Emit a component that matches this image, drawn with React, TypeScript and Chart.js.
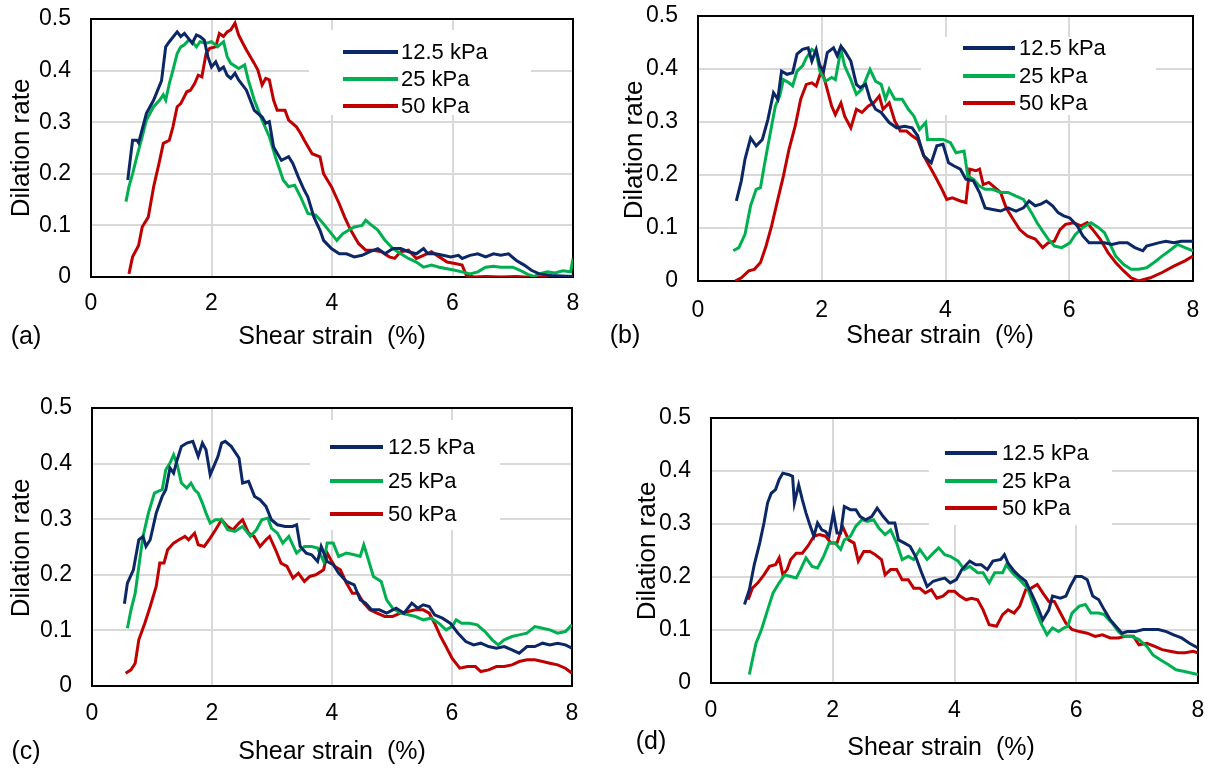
import React, { useEffect, useRef } from "react";
import { Chart, registerables } from "chart.js";
Chart.register(...registerables);

const SERIES_LABELS = ["12.5 kPa", "25 kPa", "50 kPa"];
const COLORS = ["#0B2766", "#00B050", "#C00000"];
const X_TICKS = [0, 2, 4, 6, 8];
const Y_TICKS = [0, 0.1, 0.2, 0.3, 0.4, 0.5];
const X_TITLE = "Shear strain  (%)";
const Y_TITLE = "Dilation rate";

// Panel (a)
const a125 = [[0.61,0.188],[0.69,0.265],[0.76,0.265],[0.79,0.26],[0.92,0.317],[1.04,0.343],[1.17,0.38],[1.24,0.446],[1.3,0.456],[1.43,0.475],[1.49,0.466],[1.55,0.472],[1.62,0.462],[1.68,0.453],[1.75,0.469],[1.81,0.466],[1.88,0.459],[1.94,0.427],[2.0,0.407],[2.07,0.417],[2.13,0.401],[2.2,0.407],[2.26,0.391],[2.32,0.385],[2.39,0.395],[2.45,0.382],[2.58,0.362],[2.71,0.323],[2.84,0.31],[2.9,0.298],[2.96,0.301],[3.03,0.252],[3.16,0.226],[3.28,0.233],[3.35,0.22],[3.44,0.194],[3.54,0.168],[3.6,0.155],[3.7,0.116],[3.8,0.091],[3.86,0.071],[3.99,0.055],[4.12,0.045],[4.24,0.045],[4.37,0.039],[4.5,0.042],[4.63,0.049],[4.76,0.055],[4.88,0.045],[5.01,0.055],[5.14,0.055],[5.27,0.049],[5.4,0.045],[5.52,0.055],[5.59,0.045],[5.72,0.045],[5.84,0.042],[5.97,0.039],[6.1,0.042],[6.16,0.036],[6.29,0.042],[6.42,0.045],[6.55,0.039],[6.68,0.045],[6.8,0.042],[6.93,0.045],[7.06,0.032],[7.19,0.023],[7.31,0.013],[7.44,0.006],[7.64,0.003],[8.0,0.001]];
const a25 = [[0.58,0.146],[0.63,0.175],[0.69,0.2],[0.76,0.233],[0.85,0.272],[0.92,0.304],[1.04,0.33],[1.14,0.343],[1.2,0.353],[1.24,0.343],[1.3,0.375],[1.36,0.401],[1.43,0.433],[1.49,0.446],[1.55,0.45],[1.62,0.459],[1.68,0.456],[1.75,0.446],[1.81,0.456],[1.91,0.453],[2.0,0.456],[2.1,0.446],[2.2,0.456],[2.26,0.427],[2.32,0.414],[2.45,0.404],[2.55,0.411],[2.61,0.382],[2.71,0.343],[2.84,0.304],[2.96,0.272],[3.06,0.233],[3.19,0.188],[3.28,0.175],[3.38,0.178],[3.48,0.155],[3.6,0.123],[3.73,0.12],[3.86,0.103],[3.99,0.084],[4.08,0.071],[4.18,0.084],[4.28,0.091],[4.37,0.097],[4.5,0.1],[4.56,0.11],[4.63,0.103],[4.76,0.091],[4.88,0.071],[5.01,0.055],[5.14,0.045],[5.27,0.036],[5.4,0.029],[5.52,0.019],[5.65,0.023],[5.78,0.019],[5.91,0.016],[6.04,0.013],[6.16,0.01],[6.29,0.006],[6.42,0.01],[6.55,0.019],[6.68,0.021],[6.8,0.019],[7.0,0.019],[7.12,0.013],[7.25,0.005],[7.35,0.001],[7.44,0.006],[7.57,0.01],[7.7,0.008],[7.83,0.012],[7.96,0.01],[8.0,0.036]];
const a50 = [[0.63,0.006],[0.69,0.039],[0.79,0.061],[0.85,0.097],[0.95,0.116],[1.04,0.175],[1.14,0.226],[1.2,0.259],[1.3,0.265],[1.36,0.291],[1.43,0.33],[1.49,0.336],[1.59,0.359],[1.65,0.362],[1.72,0.375],[1.78,0.391],[1.84,0.388],[1.91,0.433],[1.97,0.443],[2.07,0.446],[2.13,0.472],[2.2,0.466],[2.26,0.475],[2.32,0.479],[2.39,0.492],[2.45,0.469],[2.52,0.453],[2.58,0.44],[2.71,0.414],[2.77,0.401],[2.84,0.372],[2.9,0.385],[2.96,0.382],[3.03,0.343],[3.09,0.323],[3.22,0.323],[3.28,0.304],[3.41,0.291],[3.48,0.278],[3.54,0.265],[3.67,0.239],[3.8,0.233],[3.86,0.2],[3.99,0.175],[4.12,0.142],[4.21,0.116],[4.31,0.091],[4.44,0.065],[4.56,0.052],[4.69,0.052],[4.82,0.049],[4.95,0.039],[5.04,0.036],[5.14,0.049],[5.27,0.052],[5.4,0.036],[5.52,0.042],[5.65,0.049],[5.78,0.039],[5.91,0.029],[6.04,0.026],[6.16,0.023],[6.23,0.003],[6.36,0.0],[6.55,0.001],[6.8,0.0],[7.06,0.001],[7.19,0.0],[7.96,0.0],[8.0,0.003]];

// Panel (b)
const b125 = [[0.62,0.151],[0.7,0.189],[0.76,0.23],[0.85,0.27],[0.94,0.255],[1.04,0.267],[1.13,0.305],[1.22,0.355],[1.29,0.343],[1.35,0.396],[1.44,0.39],[1.53,0.393],[1.6,0.428],[1.69,0.437],[1.78,0.44],[1.84,0.415],[1.91,0.437],[1.97,0.406],[2.03,0.396],[2.09,0.431],[2.19,0.44],[2.25,0.425],[2.31,0.443],[2.37,0.434],[2.47,0.415],[2.56,0.371],[2.62,0.365],[2.71,0.371],[2.78,0.343],[2.87,0.324],[2.96,0.318],[3.09,0.299],[3.21,0.289],[3.34,0.292],[3.46,0.289],[3.55,0.274],[3.65,0.236],[3.77,0.223],[3.86,0.255],[3.96,0.258],[4.05,0.223],[4.14,0.217],[4.24,0.211],[4.33,0.192],[4.45,0.189],[4.55,0.167],[4.64,0.138],[4.76,0.135],[4.89,0.132],[5.01,0.138],[5.14,0.132],[5.26,0.138],[5.35,0.151],[5.45,0.142],[5.54,0.145],[5.63,0.151],[5.73,0.142],[5.82,0.129],[5.91,0.123],[6.01,0.119],[6.13,0.104],[6.22,0.085],[6.32,0.072],[6.44,0.072],[6.57,0.072],[6.69,0.069],[6.81,0.072],[6.94,0.072],[7.06,0.063],[7.19,0.057],[7.25,0.066],[7.44,0.072],[7.56,0.075],[7.69,0.072],[7.81,0.075],[8.0,0.075]];
const b25 = [[0.57,0.057],[0.66,0.063],[0.76,0.088],[0.85,0.142],[0.94,0.173],[1.01,0.176],[1.07,0.217],[1.16,0.274],[1.25,0.33],[1.32,0.349],[1.38,0.38],[1.47,0.374],[1.53,0.368],[1.6,0.396],[1.69,0.406],[1.75,0.421],[1.84,0.437],[1.91,0.431],[1.97,0.396],[2.06,0.377],[2.16,0.384],[2.22,0.38],[2.31,0.437],[2.37,0.406],[2.47,0.38],[2.56,0.352],[2.65,0.362],[2.78,0.399],[2.87,0.377],[2.96,0.371],[3.03,0.343],[3.09,0.362],[3.18,0.343],[3.3,0.343],[3.4,0.324],[3.49,0.311],[3.58,0.286],[3.68,0.299],[3.71,0.267],[3.83,0.267],[3.96,0.267],[4.08,0.261],[4.17,0.242],[4.3,0.245],[4.36,0.198],[4.45,0.192],[4.55,0.179],[4.64,0.173],[4.76,0.173],[4.89,0.167],[5.01,0.167],[5.14,0.16],[5.26,0.154],[5.39,0.129],[5.48,0.11],[5.57,0.094],[5.66,0.079],[5.76,0.066],[5.88,0.063],[6.01,0.072],[6.1,0.088],[6.22,0.101],[6.35,0.11],[6.47,0.101],[6.57,0.091],[6.66,0.069],[6.75,0.047],[6.88,0.031],[7.0,0.022],[7.12,0.022],[7.25,0.025],[7.37,0.035],[7.5,0.047],[7.62,0.057],[7.75,0.069],[7.87,0.063],[8.0,0.057]];
const b50 = [[0.6,0.0],[0.7,0.006],[0.82,0.019],[0.91,0.022],[1.01,0.035],[1.1,0.066],[1.19,0.104],[1.29,0.154],[1.38,0.198],[1.47,0.248],[1.57,0.292],[1.66,0.343],[1.75,0.371],[1.84,0.374],[1.91,0.368],[2.0,0.399],[2.06,0.374],[2.16,0.33],[2.22,0.314],[2.31,0.336],[2.37,0.311],[2.47,0.289],[2.56,0.324],[2.65,0.318],[2.75,0.33],[2.84,0.336],[2.93,0.349],[2.99,0.324],[3.09,0.336],[3.18,0.302],[3.27,0.283],[3.37,0.283],[3.46,0.274],[3.55,0.267],[3.65,0.236],[3.74,0.217],[3.83,0.198],[3.93,0.176],[4.02,0.154],[4.11,0.157],[4.24,0.151],[4.33,0.148],[4.39,0.211],[4.49,0.208],[4.55,0.211],[4.61,0.182],[4.7,0.186],[4.8,0.176],[4.89,0.167],[4.98,0.138],[5.08,0.119],[5.2,0.097],[5.32,0.085],[5.45,0.079],[5.57,0.063],[5.66,0.072],[5.76,0.075],[5.85,0.097],[5.94,0.107],[6.07,0.11],[6.19,0.104],[6.29,0.11],[6.38,0.097],[6.5,0.079],[6.63,0.053],[6.75,0.035],[6.88,0.019],[7.0,0.006],[7.12,0.0],[7.31,0.006],[7.5,0.016],[7.69,0.028],[7.87,0.038],[8.0,0.047]];

// Panel (c)
const c125 = [[0.54,0.148],[0.59,0.185],[0.69,0.209],[0.78,0.263],[0.85,0.269],[0.9,0.251],[0.97,0.263],[1.07,0.311],[1.17,0.341],[1.23,0.353],[1.3,0.392],[1.36,0.383],[1.42,0.407],[1.49,0.431],[1.58,0.437],[1.68,0.44],[1.77,0.413],[1.84,0.437],[1.9,0.425],[1.97,0.38],[2.03,0.395],[2.1,0.413],[2.16,0.437],[2.22,0.44],[2.32,0.431],[2.45,0.41],[2.51,0.365],[2.61,0.368],[2.71,0.341],[2.8,0.335],[2.9,0.323],[2.99,0.299],[3.09,0.29],[3.22,0.287],[3.34,0.287],[3.41,0.29],[3.47,0.251],[3.57,0.239],[3.66,0.236],[3.76,0.224],[3.82,0.251],[3.92,0.224],[4.02,0.218],[4.11,0.203],[4.24,0.188],[4.37,0.182],[4.47,0.155],[4.56,0.149],[4.66,0.137],[4.79,0.137],[4.91,0.131],[5.07,0.14],[5.2,0.131],[5.33,0.149],[5.43,0.14],[5.52,0.146],[5.62,0.143],[5.71,0.128],[5.84,0.122],[5.97,0.113],[6.1,0.095],[6.23,0.08],[6.36,0.074],[6.48,0.077],[6.61,0.071],[6.74,0.068],[6.87,0.071],[7.0,0.065],[7.12,0.059],[7.25,0.071],[7.38,0.071],[7.51,0.077],[7.63,0.074],[7.76,0.077],[7.89,0.074],[8.0,0.068]];
const c25 = [[0.59,0.104],[0.65,0.137],[0.72,0.167],[0.78,0.215],[0.85,0.269],[0.94,0.311],[1.04,0.347],[1.1,0.35],[1.17,0.353],[1.23,0.389],[1.3,0.401],[1.36,0.416],[1.42,0.398],[1.49,0.365],[1.58,0.356],[1.65,0.365],[1.71,0.353],[1.77,0.347],[1.84,0.329],[1.9,0.311],[1.97,0.293],[2.06,0.299],[2.16,0.299],[2.26,0.281],[2.38,0.278],[2.51,0.287],[2.64,0.269],[2.74,0.281],[2.83,0.299],[2.93,0.302],[2.99,0.284],[3.09,0.275],[3.18,0.257],[3.28,0.269],[3.41,0.239],[3.54,0.251],[3.66,0.251],[3.76,0.248],[3.86,0.224],[3.92,0.257],[4.02,0.257],[4.11,0.233],[4.24,0.239],[4.37,0.236],[4.47,0.233],[4.53,0.254],[4.59,0.233],[4.69,0.197],[4.82,0.188],[4.91,0.155],[5.01,0.14],[5.14,0.131],[5.27,0.128],[5.39,0.125],[5.52,0.119],[5.65,0.122],[5.78,0.113],[5.9,0.101],[6.0,0.107],[6.07,0.119],[6.16,0.113],[6.29,0.113],[6.42,0.11],[6.55,0.098],[6.67,0.083],[6.77,0.074],[6.87,0.083],[7.0,0.089],[7.12,0.092],[7.25,0.095],[7.38,0.107],[7.51,0.104],[7.63,0.101],[7.76,0.095],[7.89,0.098],[8.0,0.11]];
const c50 = [[0.56,0.023],[0.65,0.029],[0.72,0.041],[0.78,0.083],[0.88,0.113],[0.97,0.143],[1.07,0.179],[1.13,0.221],[1.2,0.221],[1.26,0.245],[1.36,0.257],[1.45,0.263],[1.55,0.269],[1.61,0.263],[1.71,0.275],[1.77,0.254],[1.87,0.251],[1.97,0.266],[2.06,0.281],[2.16,0.299],[2.26,0.287],[2.35,0.281],[2.45,0.293],[2.51,0.299],[2.61,0.275],[2.7,0.269],[2.8,0.251],[2.9,0.263],[2.96,0.269],[3.06,0.245],[3.15,0.221],[3.25,0.215],[3.35,0.194],[3.44,0.203],[3.54,0.188],[3.63,0.197],[3.73,0.2],[3.86,0.209],[3.92,0.239],[3.98,0.227],[4.05,0.215],[4.14,0.209],[4.24,0.185],[4.34,0.167],[4.43,0.167],[4.53,0.149],[4.63,0.137],[4.75,0.131],[4.88,0.125],[5.01,0.125],[5.14,0.131],[5.27,0.134],[5.39,0.137],[5.52,0.137],[5.62,0.131],[5.71,0.113],[5.81,0.089],[5.9,0.071],[6.0,0.05],[6.13,0.032],[6.26,0.035],[6.39,0.035],[6.48,0.026],[6.61,0.029],[6.74,0.035],[6.87,0.035],[7.0,0.038],[7.12,0.044],[7.25,0.047],[7.38,0.047],[7.51,0.044],[7.63,0.041],[7.76,0.038],[7.89,0.032],[8.0,0.023]];

// Panel (d)
const d125 = [[0.55,0.148],[0.63,0.176],[0.71,0.223],[0.8,0.264],[0.87,0.302],[0.93,0.34],[0.99,0.358],[1.06,0.365],[1.12,0.384],[1.18,0.396],[1.28,0.393],[1.34,0.39],[1.37,0.34],[1.44,0.374],[1.5,0.346],[1.56,0.321],[1.63,0.296],[1.69,0.277],[1.75,0.302],[1.82,0.289],[1.88,0.286],[1.94,0.277],[2.01,0.321],[2.07,0.283],[2.13,0.283],[2.19,0.333],[2.29,0.327],[2.38,0.327],[2.45,0.314],[2.54,0.308],[2.64,0.314],[2.73,0.33],[2.83,0.314],[2.92,0.302],[3.02,0.302],[3.08,0.27],[3.18,0.264],[3.27,0.258],[3.36,0.239],[3.46,0.208],[3.55,0.182],[3.65,0.192],[3.74,0.195],[3.84,0.198],[3.93,0.189],[4.03,0.195],[4.12,0.214],[4.25,0.23],[4.35,0.223],[4.44,0.223],[4.54,0.214],[4.63,0.23],[4.76,0.233],[4.82,0.242],[4.88,0.226],[4.98,0.211],[5.07,0.201],[5.17,0.192],[5.26,0.17],[5.36,0.145],[5.45,0.119],[5.55,0.138],[5.61,0.164],[5.74,0.16],[5.83,0.164],[5.9,0.182],[5.99,0.201],[6.09,0.201],[6.18,0.195],[6.27,0.164],[6.37,0.157],[6.46,0.138],[6.56,0.119],[6.65,0.107],[6.75,0.094],[6.84,0.097],[6.97,0.097],[7.1,0.101],[7.22,0.101],[7.35,0.101],[7.48,0.097],[7.6,0.091],[7.73,0.085],[7.86,0.075],[8.0,0.066]];
const d25 = [[0.63,0.016],[0.68,0.044],[0.74,0.075],[0.83,0.101],[0.93,0.138],[1.02,0.17],[1.12,0.189],[1.21,0.204],[1.31,0.201],[1.4,0.198],[1.47,0.214],[1.56,0.236],[1.66,0.22],[1.75,0.217],[1.85,0.239],[1.94,0.264],[2.04,0.264],[2.13,0.252],[2.19,0.27],[2.29,0.277],[2.38,0.296],[2.48,0.308],[2.57,0.305],[2.67,0.308],[2.76,0.292],[2.86,0.28],[2.95,0.289],[3.05,0.264],[3.14,0.233],[3.24,0.239],[3.33,0.233],[3.43,0.252],[3.55,0.233],[3.65,0.245],[3.74,0.255],[3.84,0.242],[3.93,0.239],[4.06,0.23],[4.16,0.214],[4.25,0.22],[4.38,0.208],[4.47,0.208],[4.57,0.189],[4.66,0.208],[4.79,0.208],[4.85,0.223],[4.95,0.208],[5.07,0.195],[5.2,0.179],[5.33,0.138],[5.42,0.113],[5.52,0.091],[5.61,0.104],[5.71,0.097],[5.8,0.104],[5.86,0.107],[5.93,0.132],[6.05,0.145],[6.15,0.148],[6.24,0.132],[6.37,0.132],[6.46,0.129],[6.59,0.113],[6.69,0.097],[6.78,0.088],[6.91,0.088],[7.03,0.082],[7.16,0.069],[7.26,0.053],[7.38,0.044],[7.51,0.035],[7.64,0.025],[7.76,0.022],[7.89,0.019],[8.0,0.016]];
const d50 = [[0.61,0.157],[0.68,0.179],[0.77,0.189],[0.87,0.204],[0.96,0.22],[1.06,0.223],[1.12,0.236],[1.18,0.204],[1.25,0.214],[1.31,0.233],[1.4,0.245],[1.5,0.245],[1.59,0.258],[1.69,0.277],[1.78,0.28],[1.88,0.277],[1.97,0.264],[2.07,0.264],[2.16,0.296],[2.26,0.27],[2.35,0.264],[2.42,0.23],[2.51,0.248],[2.61,0.248],[2.7,0.242],[2.8,0.233],[2.86,0.204],[2.95,0.214],[3.05,0.214],[3.14,0.195],[3.24,0.195],[3.33,0.179],[3.43,0.179],[3.52,0.17],[3.62,0.176],[3.71,0.16],[3.81,0.164],[3.9,0.173],[4.0,0.173],[4.09,0.164],[4.19,0.157],[4.28,0.16],[4.38,0.157],[4.47,0.138],[4.57,0.11],[4.69,0.107],[4.79,0.129],[4.88,0.138],[4.98,0.132],[5.07,0.145],[5.17,0.176],[5.26,0.179],[5.36,0.186],[5.45,0.17],[5.55,0.154],[5.64,0.154],[5.74,0.132],[5.83,0.113],[5.93,0.101],[6.05,0.097],[6.18,0.094],[6.31,0.088],[6.43,0.091],[6.56,0.085],[6.69,0.085],[6.81,0.088],[6.94,0.088],[7.03,0.072],[7.16,0.075],[7.29,0.069],[7.41,0.063],[7.54,0.06],[7.67,0.057],[7.79,0.057],[7.92,0.06],[8.0,0.057]];

const FONT = "'Liberation Sans', Arial, sans-serif";
const TICK_SIZE = 23;
const LEGEND_SIZE = 22;
const TITLE_SIZE = 25;
const YTITLE_SIZE = 26;

type Box = { x: number; y: number; w: number; h: number };
type PanelCfg = {
  tag: string;
  cx: number; bottom: number;
  area: { l: number; t: number; r: number; b: number };
  xPad: number;
  legBox: Box;
  legLine: [number, number];
  legText: number;
  legRows: number[];
  xTitle: [number, number];
  yTitle: [number, number];
  tagPos: [number, number];
  series: number[][][];
};

const PANELS: PanelCfg[] = [
  { tag: "(a)", cx: 0, bottom: 384, area: { l: 91, t: 19, r: 573, b: 277 }, xPad: 13,
    legBox: { x: 309, y: 30, w: 222, h: 85 }, legLine: [343, 398], legText: 401, legRows: [52, 79, 106],
    xTitle: [332, 337], yTitle: [22, 148], tagPos: [26, 337], series: [a125, a25, a50] },
  { tag: "(b)", cx: 604, bottom: 384, area: { l: 698, t: 16, r: 1193, b: 281 }, xPad: 16,
    legBox: { x: 921, y: 37, w: 235, h: 78 }, legLine: [963, 1015], legText: 1019, legRows: [48, 76, 103],
    xTitle: [940, 336], yTitle: [635, 150], tagPos: [625, 336], series: [b125, b25, b50] },
  { tag: "(c)", cx: 0, bottom: 768, area: { l: 92, t: 408, r: 572, b: 686 }, xPad: 14,
    legBox: { x: 310, y: 420, w: 190, h: 110 }, legLine: [330, 383], legText: 388, legRows: [447, 481, 514],
    xTitle: [332, 752], yTitle: [22, 548], tagPos: [26, 752], series: [c125, c25, c50] },
  { tag: "(d)", cx: 604, bottom: 768, area: { l: 711, t: 418, r: 1198, b: 683 }, xPad: 14,
    legBox: { x: 929, y: 420, w: 183, h: 105 }, legLine: [945, 997], legText: 1002, legRows: [453, 481, 508],
    xTitle: [941, 748], yTitle: [648, 551], tagPos: [651, 742], series: [d125, d25, d50] },
];

const EDGE = 40;

function Panel({ cfg }: { cfg: PanelCfg }) {
  const ref = useRef<HTMLCanvasElement | null>(null);
  const ox = cfg.cx;
  const oy = cfg.area.t - EDGE;
  const cw = cfg.area.r + EDGE - ox;
  const ch = cfg.bottom - oy;
  useEffect(() => {
    const canvas = ref.current;
    if (!canvas) return;
    const decor = {
      id: "decor",
      beforeDatasetsDraw(chart: any) {
        const { ctx, chartArea: a } = chart;
        ctx.save();
        ctx.fillStyle = "#ffffff";
        ctx.fillRect(cfg.legBox.x - ox, cfg.legBox.y - oy, cfg.legBox.w, cfg.legBox.h);
        ctx.strokeStyle = "#000000";
        ctx.lineWidth = 2;
        ctx.strokeRect(a.left, a.top, a.right - a.left, a.bottom - a.top);
        ctx.restore();
      },
      afterDatasetsDraw(chart: any) {
        const { ctx } = chart;
        ctx.save();
        ctx.fillStyle = "#000";
        ctx.textBaseline = "middle";
        SERIES_LABELS.forEach((lab, i) => {
          const y = cfg.legRows[i] - oy;
          ctx.strokeStyle = COLORS[i];
          ctx.lineWidth = 4;
          ctx.beginPath();
          ctx.moveTo(cfg.legLine[0] - ox, y);
          ctx.lineTo(cfg.legLine[1] - ox, y);
          ctx.stroke();
          ctx.font = `${LEGEND_SIZE}px ${FONT}`;
          ctx.textAlign = "left";
          ctx.fillText(lab, cfg.legText - ox, y + 1);
        });
        ctx.font = `${TITLE_SIZE}px ${FONT}`;
        ctx.textAlign = "center";
        ctx.fillText(X_TITLE, cfg.xTitle[0] - ox, cfg.xTitle[1] - oy);
        ctx.fillText(cfg.tag, cfg.tagPos[0] - ox, cfg.tagPos[1] - oy);
        ctx.font = `${YTITLE_SIZE}px ${FONT}`;
        ctx.translate(cfg.yTitle[0] - ox, cfg.yTitle[1] - oy);
        ctx.rotate(-Math.PI / 2);
        ctx.fillText(Y_TITLE, 0, 0);
        ctx.restore();
      },
    };
    const chart = new Chart(canvas, {
      type: "line",
      data: {
        datasets: cfg.series.map((s, i) => ({
          label: SERIES_LABELS[i],
          data: s.map(([x, y]) => ({ x, y })),
          borderColor: COLORS[i],
          backgroundColor: COLORS[i],
          borderWidth: 3,
          pointRadius: 0,
          tension: 0,
          fill: false,
        })),
      },
      options: {
        animation: false,
        responsive: false,
        devicePixelRatio: 1,
        events: [],
        layout: { padding: { top: EDGE, right: EDGE, left: 0, bottom: 0 } },
        plugins: { legend: { display: false }, tooltip: { enabled: false }, title: { display: false } },
        scales: {
          x: {
            type: "linear",
            min: 0,
            max: 8,
            afterBuildTicks: (sc: any) => { sc.ticks = X_TICKS.map((v) => ({ value: v })); },
            afterFit: (sc: any) => { sc.height = cfg.bottom - cfg.area.b; },
            grid: { color: "#d9d9d9", lineWidth: 2, drawTicks: false },
            border: { display: false },
            ticks: { color: "#000", padding: cfg.xPad, font: { family: FONT, size: TICK_SIZE }, maxRotation: 0, autoSkip: false,
              callback: (v: any) => String(v) },
          },
          y: {
            type: "linear",
            min: 0,
            max: 0.5,
            afterBuildTicks: (sc: any) => { sc.ticks = Y_TICKS.map((v) => ({ value: v })); },
            afterFit: (sc: any) => { sc.width = cfg.area.l - ox; },
            grid: { color: "#d9d9d9", lineWidth: 2, drawTicks: false },
            border: { display: false },
            ticks: { color: "#000", padding: 20, font: { family: FONT, size: TICK_SIZE }, autoSkip: false,
              callback: (v: any) => (v === 0 ? "0" : Number(v).toFixed(1)) },
          },
        },
      },
      plugins: [decor],
    } as any);
    return () => chart.destroy();
  }, [cfg]);
  return (
    <canvas
      ref={ref}
      width={cw}
      height={ch}
      style={{ position: "absolute", left: ox, top: oy, width: cw, height: ch }}
    />
  );
}

export default function App() {
  return (
    <div style={{ position: "fixed", left: 0, top: 0, width: 1208, height: 768, background: "#fff", overflow: "hidden" }}>
      {PANELS.map((p) => (
        <Panel key={p.tag} cfg={p} />
      ))}
    </div>
  );
}
